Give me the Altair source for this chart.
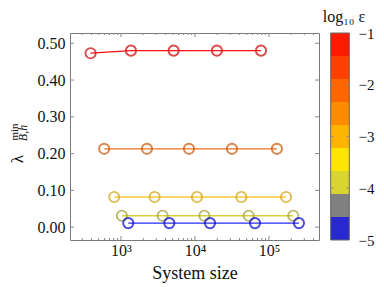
import altair as alt
import pandas as pd

# ---------------- data ----------------
series_eps = ["-1", "-2", "-3", "-4", "-5"]

size_e1 = [389, 1365, 5150, 19800, 78000]
lam_e1 = [0.473, 0.480, 0.480, 0.480, 0.480]
size_e2 = [594, 2245, 8300, 31600, 128000]
lam_e2 = [0.213, 0.213, 0.213, 0.213, 0.213]
size_e3 = [811, 2850, 10640, 42300, 170000]
lam_e3 = [0.082, 0.082, 0.082, 0.082, 0.082]
size_e4 = [1030, 3660, 13400, 53200, 213000]
lam_e4 = [0.031, 0.031, 0.031, 0.031, 0.031]
size_e5 = [1255, 4500, 15960, 64700, 254000]
lam_e5 = [0.011, 0.011, 0.011, 0.011, 0.011]

line_colors = ["#ff1010", "#f2701e", "#ffc93a", "#d8d038", "#2a2aff"]
edge_colors = ["#cc0000", "#cc5200", "#d4a010", "#a0a030", "#0000cc"]

cbar_edges = [-5.0, -4.556, -4.111, -3.667, -3.222, -2.778, -2.333, -1.889, -1.444, -1.0]
cbar_colors = ["#2828d0", "#808080", "#d8d430", "#ffe600", "#ffb400",
               "#ff8c00", "#ff6600", "#ff4000", "#ff1a00"]
cbar_ticks = [-5, -4, -3, -2, -1]
cbar_inner_ticks = [-4, -3, -2]

y_ticks = [0.0, 0.1, 0.2, 0.3, 0.4, 0.5]
x_major = [1000, 10000, 100000]
x_major_labels = ["10³", "10⁴", "10⁵"]
x_minor = [m * 10 ** k for k in (2, 3, 4, 5) for m in range(2, 10)
           if 205 < m * 10 ** k < 474000]

# ---------------- build table ----------------
sizes = [size_e1, size_e2, size_e3, size_e4, size_e5]
lams = [lam_e1, lam_e2, lam_e3, lam_e4, lam_e5]
rows = []
for i, s in enumerate(series_eps):
    for j, (xv, yv) in enumerate(zip(sizes[i], lams[i])):
        rows.append({"series": s, "size": xv, "lam": yv, "idx": j,
                     "lc": line_colors[i], "ec": edge_colors[i]})
df = pd.DataFrame(rows)

W, H = 249, 207
FONT = "Liberation Serif"
TXT = "#111111"
TICKC = "#8a8a8a"

xscale = alt.Scale(type="log", domain=[205, 474000], nice=False)
yscale = alt.Scale(domain=[-0.035, 0.528], nice=False, zero=False)

label_expr = " : ".join(
    f"datum.value == {v} ? '{l}'" for v, l in zip(x_major, x_major_labels)
) + " : ''"

xaxis = alt.Axis(values=x_major, labelExpr=label_expr, ticks=False, domain=False,
                 grid=False, labelPadding=2, labelFlush=False,
                 labelFontSize=16, labelColor=TXT, title="System size",
                 titleFontSize=18, titleFontWeight="normal",
                 titleColor=TXT, titlePadding=6)
yaxis = alt.Axis(orient="left", values=y_ticks, format=".2f", ticks=False,
                 domain=False, grid=False, labelPadding=5,
                 labelFontSize=16, labelColor=TXT, title=None)

lines = alt.Chart(df).mark_line(strokeWidth=1.3).encode(
    x=alt.X("size:Q", scale=xscale, axis=xaxis),
    y=alt.Y("lam:Q", scale=yscale, axis=yaxis),
    color=alt.Color("lc:N", scale=None),
    detail="series:N",
    order="idx:Q",
)
circles = alt.Chart(df).mark_point(shape="circle", filled=False, size=105,
                                   strokeWidth=1.9).encode(
    x="size:Q", y="lam:Q", color=alt.Color("ec:N", scale=None)
)

ytdf = pd.DataFrame({"v": y_ticks})
xmaj_df = pd.DataFrame({"v": x_major})
xmin_df = pd.DataFrame({"v": x_minor})

ytl = alt.Chart(ytdf).mark_rule(color=TICKC).encode(
    y="v:Q", x=alt.value(0), x2=alt.value(4))
ytr = alt.Chart(ytdf).mark_rule(color=TICKC).encode(
    y="v:Q", x=alt.value(W - 4), x2=alt.value(W))
xmb = alt.Chart(xmaj_df).mark_rule(color=TICKC).encode(
    x="v:Q", y=alt.value(H - 4), y2=alt.value(H))
xmt = alt.Chart(xmaj_df).mark_rule(color=TICKC).encode(
    x="v:Q", y=alt.value(0), y2=alt.value(4))
xnb = alt.Chart(xmin_df).mark_rule(color=TICKC).encode(
    x="v:Q", y=alt.value(H - 2), y2=alt.value(H))
xnt = alt.Chart(xmin_df).mark_rule(color=TICKC).encode(
    x="v:Q", y=alt.value(0), y2=alt.value(2))

one = pd.DataFrame({"a": [0]})
t_lam = alt.Chart(one).mark_text(text="λ", fontSize=17, angle=270,
                                 align="center", baseline="middle", color=TXT).encode(
    x=alt.value(-52), y=alt.value(126))
t_min = alt.Chart(one).mark_text(text="min", fontSize=11, angle=270,
                                 align="center", baseline="middle", color=TXT).encode(
    x=alt.value(-55), y=alt.value(99))
t_bh = alt.Chart(one).mark_text(text="B,h", fontSize=12, fontStyle="italic",
                                angle=270, align="center", baseline="middle",
                                color=TXT).encode(
    x=alt.value(-47), y=alt.value(100))

main = alt.layer(lines, circles, ytl, ytr, xmb, xmt, xnb, xnt, t_lam, t_min, t_bh)

# ---------------- colour bar ----------------
cb_df = pd.DataFrame({"lo": cbar_edges[:-1], "hi": cbar_edges[1:], "c": cbar_colors})
cscale = alt.Scale(domain=[-5, -1], nice=False, zero=False)
caxis = alt.Axis(orient="right", offset=30, values=cbar_ticks,
                 labelExpr="'−' + abs(datum.value)", ticks=False, domain=False,
                 grid=False, labelPadding=9, labelFontSize=15,
                 labelColor=TXT, title=None)
CB0, CB1 = 260.7, 279.3
cbar = alt.Chart(cb_df).mark_rect().encode(
    y=alt.Y("lo:Q", scale=cscale, axis=caxis), y2="hi:Q",
    x=alt.value(CB0), x2=alt.value(CB1),
    color=alt.Color("c:N", scale=None),
)
cb_outline = alt.Chart(one).mark_rect(fillOpacity=0, stroke="#666666",
                                      strokeWidth=1).encode(
    x=alt.value(CB0), x2=alt.value(CB1), y=alt.value(0), y2=alt.value(H))
cit = pd.DataFrame({"v": cbar_inner_ticks})
cb_t1 = alt.Chart(cit).mark_rule(color="#888888", opacity=0.8).encode(
    y="v:Q", x=alt.value(CB0), x2=alt.value(CB0 + 3))
cb_t2 = alt.Chart(cit).mark_rule(color="#888888", opacity=0.8).encode(
    y="v:Q", x=alt.value(CB1 - 3), x2=alt.value(CB1))
cb_title = alt.Chart(one).mark_text(text="log₁₀ ε", fontSize=16,
                                    align="center", baseline="alphabetic",
                                    color=TXT).encode(
    x=alt.value(274), y=alt.value(-11))

cb = alt.layer(cbar, cb_outline, cb_t1, cb_t2, cb_title)

chart = alt.layer(main, cb).resolve_scale(y="independent").properties(
    width=W, height=H,
    autosize=alt.AutoSizeParams(type="none"),
    padding={"left": 62, "top": 25, "right": 57, "bottom": 46},
).configure(font=FONT).configure_axis(
    labelFont=FONT, titleFont=FONT
).configure_text(font=FONT).configure_view(stroke="#7a7a7a", strokeWidth=1)

chart.save("out.html", embed_options={"renderer": "svg", "actions": False})
